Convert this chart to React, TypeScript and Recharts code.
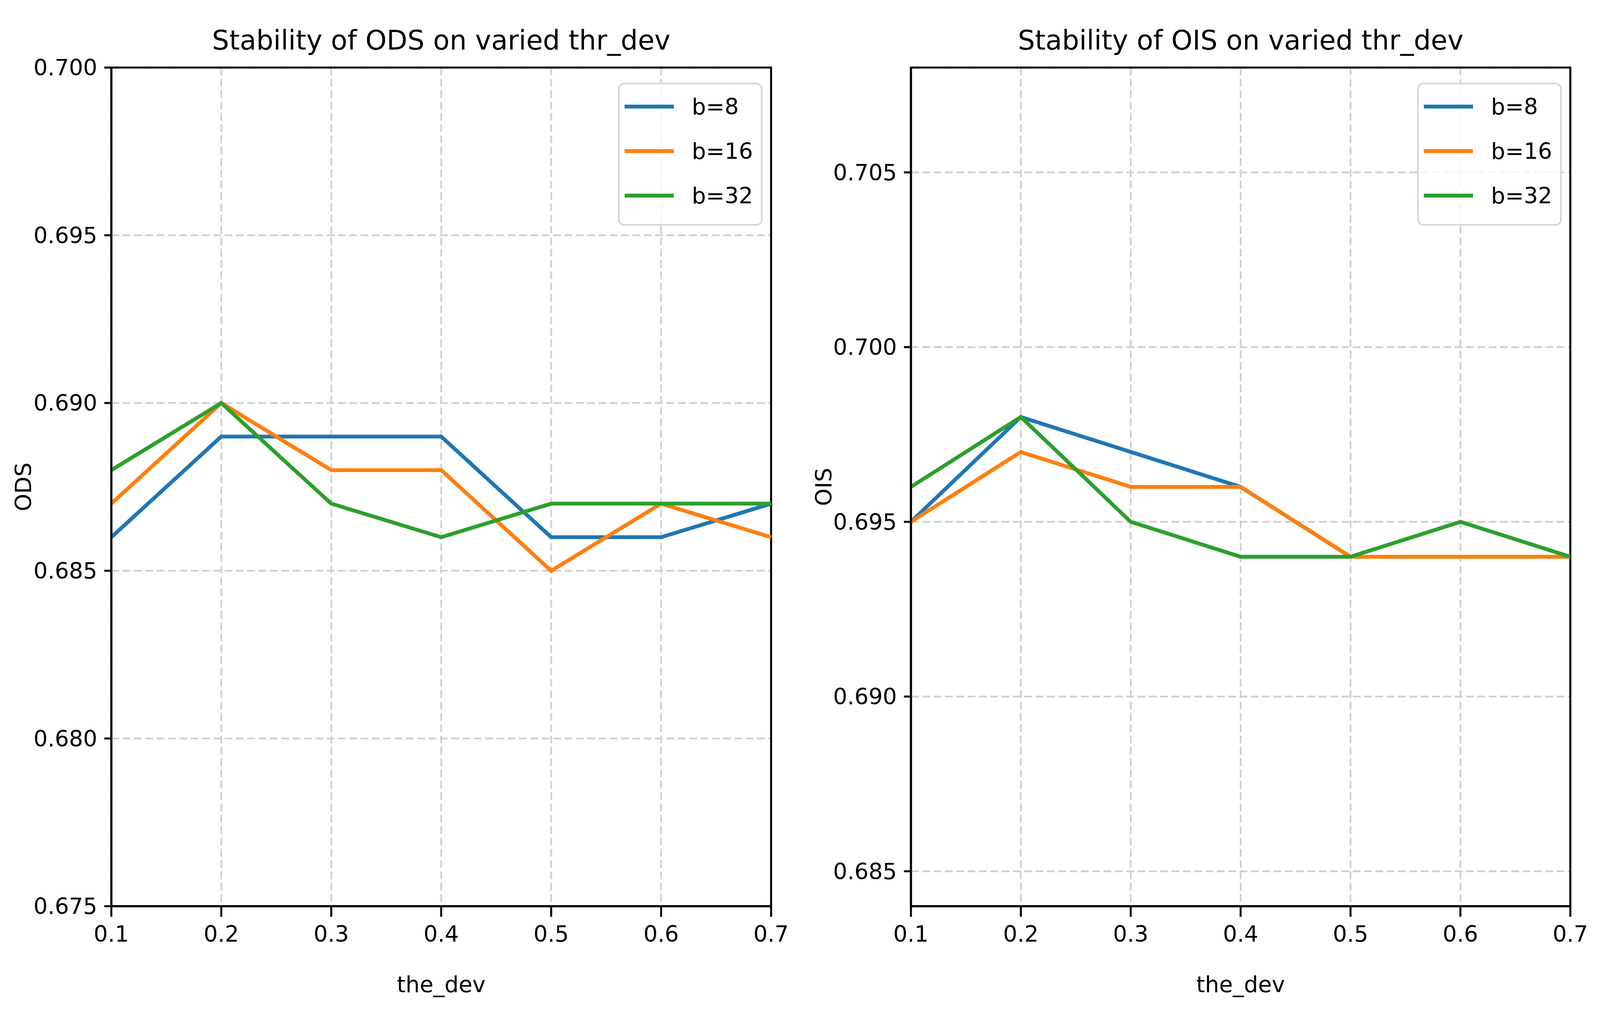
import React from "react";
import {
  LineChart,
  Line,
  XAxis,
  YAxis,
  CartesianGrid,
  Legend,
  ReferenceArea,
} from "recharts";

const thrDev = [0.1, 0.2, 0.3, 0.4, 0.5, 0.6, 0.7];

const odsB8 = [0.686, 0.689, 0.689, 0.689, 0.686, 0.686, 0.687];
const odsB16 = [0.687, 0.69, 0.688, 0.688, 0.685, 0.687, 0.686];
const odsB32 = [0.688, 0.69, 0.687, 0.686, 0.687, 0.687, 0.687];

const oisB8 = [0.695, 0.698, 0.697, 0.696, 0.694, 0.694, 0.694];
const oisB16 = [0.695, 0.697, 0.696, 0.696, 0.694, 0.694, 0.694];
const oisB32 = [0.696, 0.698, 0.695, 0.694, 0.694, 0.695, 0.694];

const odsTicks = [0.675, 0.68, 0.685, 0.69, 0.695, 0.7];
const oisTicks = [0.685, 0.69, 0.695, 0.7, 0.705];

const seriesNames = ["b=8", "b=16", "b=32"];
const colors = ["#1f77b4", "#ff7f0e", "#2ca02c"];

// the figure is laid out in the reference's 6298x2615 pixels and fitted to the window
const REF_W = 6298;
const REF_H = 2615;
const VW = typeof window !== "undefined" && window.innerWidth ? window.innerWidth : REF_W;
const VH = typeof window !== "undefined" && window.innerHeight ? window.innerHeight : REF_H;
const SX = Math.min(VW, REF_W) / REF_W;
const SY = Math.min(VH, REF_H) / REF_H;
const FS = SX < 1 ? Math.min(1, SX * 1.15) : 1;
const X = (v: number) => Math.round(v * SX);
const Y = (v: number) => Math.round(v * SY);

const FONT = "'DejaVu Sans', sans-serif";
const TICK_FS = Math.round(76 * FS);
const TITLE_FS = Math.round(92 * FS);
const LINE_W = 11.5 * Math.max(0.85, FS);
const SPINE_W = 6 * Math.max(0.85, FS);

function buildRows(a: number[], b: number[], c: number[]) {
  return thrDev.map((x, i) => ({ x, b8: a[i], b16: b[i], b32: c[i] }));
}

const LEG_LINE_LEFT = Math.round(26 * FS);
const LEG_LINE_W = Math.round(168 * FS);
const LEG_TEXT_LEFT = LEG_LINE_LEFT + LEG_LINE_W + Math.round(62 * FS);
const LEG_W = LEG_TEXT_LEFT + Math.round(2.75 * TICK_FS) + Math.round(30 * FS);
const LEG_H = Y(366);

function LegendBox() {
  return (
    <div
      style={{
        position: "relative",
        width: LEG_W,
        height: LEG_H,
        boxSizing: "border-box",
        border: `${Math.round(6 * FS)}px solid #d4d4d4`,
        borderRadius: Math.round(22 * FS),
        background: "rgba(255,255,255,0.8)",
        fontFamily: FONT,
        fontSize: TICK_FS,
      }}
    >
      {seriesNames.map((name, i) => {
        const cy = Y(57 + 114 * i);
        return (
          <React.Fragment key={name}>
            <div
              style={{
                position: "absolute",
                left: LEG_LINE_LEFT - 6,
                top: cy - LINE_W / 2,
                width: LEG_LINE_W,
                height: LINE_W,
                background: colors[i],
              }}
            />
            <div
              style={{
                position: "absolute",
                left: LEG_TEXT_LEFT - 6,
                top: cy - 50,
                height: 100,
                lineHeight: "100px",
                color: "#000",
                whiteSpace: "nowrap",
              }}
            >
              {name}
            </div>
          </React.Fragment>
        );
      })}
    </div>
  );
}

type PanelProps = {
  left: number;
  width: number;
  axisWidth: number;
  marginRight: number;
  title: string;
  yLabel: string;
  domain: [number, number];
  ticks: number[];
  rows: { x: number; b8: number; b16: number; b32: number }[];
};

function Panel(p: PanelProps) {
  const plotLeft = p.axisWidth;
  const plotRight = p.width - p.marginRight;
  const titleLH = Math.round(TITLE_FS * 1.3);
  const titleTop = Y(127) - ((titleLH - 1.164 * TITLE_FS) / 2 + 0.928 * TITLE_FS);
  const yLabel = (props: any) => {
    const vb = props.viewBox || { x: 0, y: Y(173), width: p.axisWidth, height: Y(2148) };
    const cx = vb.x + X(90);
    const cy = vb.y + vb.height / 2;
    return (
      <text
        x={cx}
        y={cy}
        transform={`rotate(-90, ${cx}, ${cy})`}
        textAnchor="middle"
        dy="0.36em"
        fontFamily={FONT}
        fontSize={TICK_FS}
        fill="#000"
      >
        {p.yLabel}
      </text>
    );
  };
  return (
    <div style={{ position: "absolute", left: p.left, top: 0, width: p.width, height: Y(REF_H) }}>
      <div
        style={{
          position: "absolute",
          left: plotLeft,
          width: plotRight - plotLeft,
          top: titleTop,
          height: titleLH,
          lineHeight: `${titleLH}px`,
          textAlign: "center",
          fontFamily: FONT,
          fontSize: TITLE_FS,
          color: "#000",
          whiteSpace: "nowrap",
        }}
      >
        {p.title}
      </div>
      <LineChart
        width={p.width}
        height={Y(REF_H)}
        data={p.rows}
        margin={{ top: Y(173), right: p.marginRight, bottom: Y(74), left: 0 }}
      >
        <CartesianGrid stroke="#d0d0d0" strokeWidth={4.5} strokeDasharray="20 9" />
        <XAxis
          dataKey="x"
          type="number"
          domain={[0.1, 0.7]}
          ticks={thrDev}
          tickFormatter={(v: number) => v.toFixed(1)}
          height={Y(220)}
          tickSize={Y(27)}
          tickMargin={Y(24)}
          axisLine={{ stroke: "#000", strokeWidth: SPINE_W }}
          tickLine={{ stroke: "#000", strokeWidth: SPINE_W }}
          tick={{ fill: "#000", fontSize: TICK_FS, fontFamily: FONT }}
          label={{
            value: "the_dev",
            position: "insideBottom",
            offset: 0,
            fill: "#000",
            fontSize: TICK_FS,
            fontFamily: FONT,
          }}
        />
        <YAxis
          type="number"
          domain={p.domain}
          ticks={p.ticks}
          allowDataOverflow
          tickFormatter={(v: number) => v.toFixed(3)}
          width={p.axisWidth}
          tickSize={X(27)}
          tickMargin={X(27)}
          axisLine={{ stroke: "#000", strokeWidth: SPINE_W }}
          tickLine={{ stroke: "#000", strokeWidth: SPINE_W }}
          tick={{ fill: "#000", fontSize: TICK_FS, fontFamily: FONT }}
          label={{ value: p.yLabel, content: yLabel }}
        />
        <Legend
          layout="horizontal"
          verticalAlign="middle"
          align="center"
          wrapperStyle={{
            position: "absolute",
            left: plotRight - X(34) - LEG_W,
            top: Y(212),
            width: LEG_W,
            height: LEG_H,
          }}
          content={() => <LegendBox />}
        />
        <Line type="linear" dataKey="b8" name="b=8" stroke={colors[0]} strokeWidth={LINE_W} dot={false} isAnimationActive={false} />
        <Line type="linear" dataKey="b16" name="b=16" stroke={colors[1]} strokeWidth={LINE_W} dot={false} isAnimationActive={false} />
        <Line type="linear" dataKey="b32" name="b=32" stroke={colors[2]} strokeWidth={LINE_W} dot={false} isAnimationActive={false} />
        <ReferenceArea
          x1={0.1}
          x2={0.7}
          y1={p.domain[0]}
          y2={p.domain[1]}
          fill="none"
          stroke="#000"
          strokeWidth={SPINE_W}
          ifOverflow="visible"
        />
      </LineChart>
    </div>
  );
}

export default function App() {
  const leftW = X(3150);
  const rightW = X(REF_W) - leftW;
  return (
    <div style={{ position: "relative", width: X(REF_W), height: Y(REF_H), background: "#fff", overflow: "hidden" }}>
      <style>{`html,body{margin:0;padding:0;overflow:hidden;}`}</style>
      <Panel
        left={0}
        width={leftW}
        axisWidth={X(438)}
        marginRight={leftW - X(3035)}
        title="Stability of ODS on varied thr_dev"
        yLabel="ODS"
        domain={[0.675, 0.7]}
        ticks={odsTicks}
        rows={buildRows(odsB8, odsB16, odsB32)}
      />
      <Panel
        left={leftW}
        width={rightW}
        axisWidth={X(3585) - leftW}
        marginRight={X(REF_W) - X(6181)}
        title="Stability of OIS on varied thr_dev"
        yLabel="OIS"
        domain={[0.684, 0.708]}
        ticks={oisTicks}
        rows={buildRows(oisB8, oisB16, oisB32)}
      />
    </div>
  );
}
